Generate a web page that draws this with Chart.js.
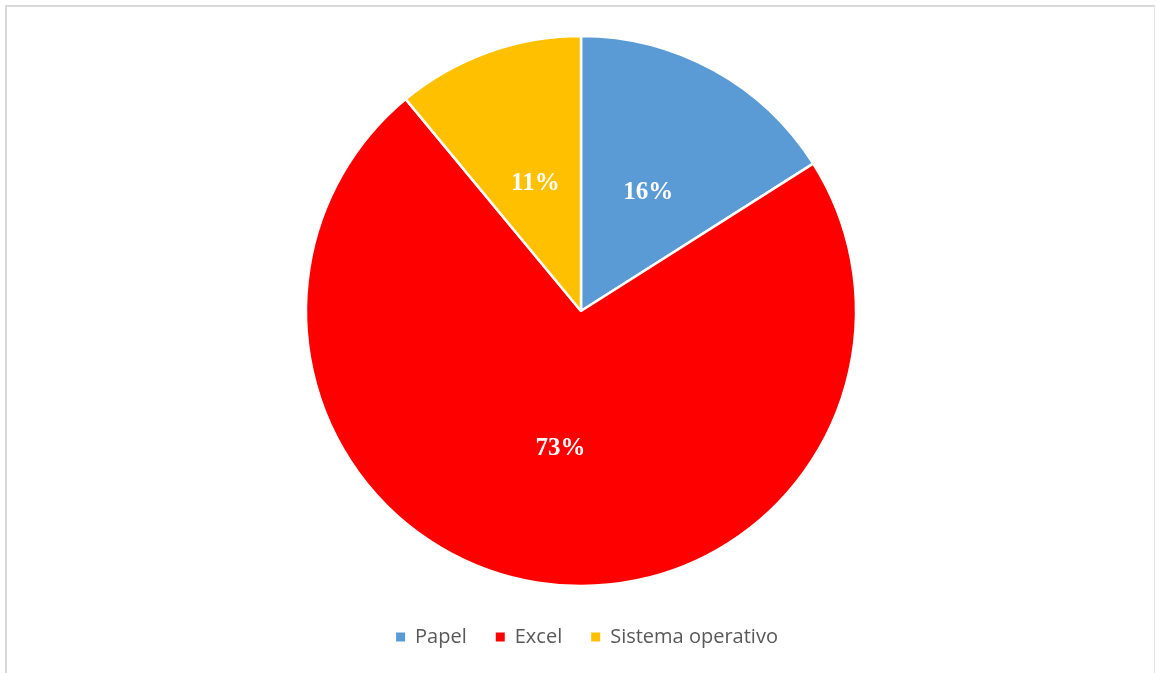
<!DOCTYPE html>
<html>
<head>
<meta charset="utf-8">
<script src="https://cdn.jsdelivr.net/npm/chart.js@4.4.1/dist/chart.umd.min.js"></script>
<style>
  html, body { margin: 0; padding: 0; background: #ffffff; }
  #frame { position: absolute; left: 5px; top: 5px; width: 1150px; height: 700px;
           border-left: 2px solid #d9d9d9; border-top: 2px solid #d9d9d9; border-right: 1px solid #e4e4e4; box-sizing: border-box; }
  #wrap { position: absolute; left: 0; top: 0; width: 1157px; height: 673px; }
</style>
</head>
<body>
<div id="frame"></div>
<div id="wrap"><canvas id="c" width="1157" height="673"></canvas></div>
<script>
const categories = ["Papel", "Excel", "Sistema operativo"];
const shares = [16, 73, 11];
const sliceColors = ["#5B9BD5", "#FF0000", "#FFC000"];

// Writes each slice's percentage at the middle of its arc
const sliceLabels = {
  id: 'sliceLabels',
  afterDatasetsDraw(chart) {
    const ctx = chart.ctx;
    const meta = chart.getDatasetMeta(0);
    ctx.save();
    ctx.font = 'bold 25px "Liberation Serif", "Times New Roman", serif';
    ctx.fillStyle = '#ffffff';
    ctx.textAlign = 'center';
    ctx.textBaseline = 'middle';
    meta.data.forEach((arc, i) => {
      const p = arc.getCenterPoint();
      ctx.fillText(shares[i] + '%', p.x + 1, p.y + 2);
    });
    ctx.restore();
  }
};

// Moves the legend row slightly right of the pie's centre line
const legendNudge = {
  id: 'legendNudge',
  afterLayout(chart) {
    if (chart.legend) {
      chart.legend.left += 6;
      chart.legend.right += 6;
    }
  }
};

new Chart(document.getElementById('c'), {
  type: 'pie',
  data: {
    labels: categories,
    datasets: [{
      data: shares,
      backgroundColor: sliceColors,
      borderColor: '#ffffff',
      borderWidth: 2.5,
      radius: 275
    }]
  },
  options: {
    responsive: false,
    animation: false,
    layout: { padding: { left: 5, right: 0, top: 24, bottom: 16 } },
    plugins: {
      legend: {
        position: 'bottom',
        labels: {
          boxWidth: 9,
          boxHeight: 9,
          padding: 29,
          color: '#595959',
          font: { family: '"Open Sans", "Liberation Sans", sans-serif', size: 20 },
          generateLabels(chart) {
            return categories.map((name, i) => ({
              text: name,
              fillStyle: sliceColors[i],
              strokeStyle: sliceColors[i],
              lineWidth: 0,
              fontColor: '#595959',
              hidden: false,
              index: i
            }));
          }
        }
      },
      tooltip: { enabled: false }
    }
  },
  plugins: [sliceLabels, legendNudge]
});
</script>
</body>
</html>
